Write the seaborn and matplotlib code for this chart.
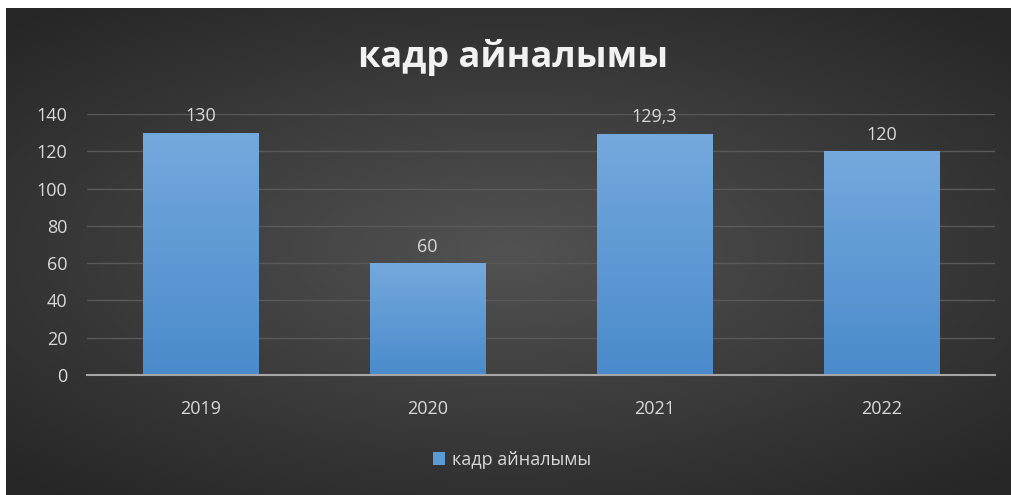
import numpy as np
import pandas as pd
import matplotlib
matplotlib.use("Agg")
import matplotlib.pyplot as plt
import seaborn as sns
from matplotlib.colors import LinearSegmentedColormap

# ---- data ----
categories = ["2019", "2020", "2021", "2022"]
values = [130, 60, 129.3, 120]
value_labels = ["130", "60", "129,3", "120"]
yticks = [0, 20, 40, 60, 80, 100, 120, 140]
title = "кадр айналымы"
series_name = "кадр айналымы"

df = pd.DataFrame({"cat": categories, "val": values})

sns.set_theme(style="dark")
plt.rcParams["font.family"] = ["Open Sans", "DejaVu Sans"]

W, H = 1011, 495
fig = plt.figure(figsize=(W / 100, H / 100), dpi=100)
fig.patch.set_facecolor("white")

# background chart area with radial gradient
bx0, by0 = 6 / W, 0
bw, bh = (W - 6) / W, (H - 8) / H
bg = fig.add_axes([bx0, by0, bw, bh], zorder=0)
yy, xx = np.mgrid[-1:1:300j, -1:1:600j]
r = np.sqrt((xx * 0.9) ** 2 + (yy * 1.0) ** 2)
r = np.clip(r / 1.3, 0, 1)
bg_cmap = LinearSegmentedColormap.from_list("bg", ["#525252", "#3c3c3c", "#262626"])
bg.imshow(r, cmap=bg_cmap, aspect="auto", extent=[0, 1, 0, 1], vmin=0, vmax=1)
bg.set_axis_off()

# plot axes
ax_l, ax_r = 87 / W, 995 / W
ax_b, ax_t = 1 - 375 / H, 1 - 114 / H
ax = fig.add_axes([ax_l, ax_b, ax_r - ax_l, ax_t - ax_b], zorder=1)
ax.patch.set_alpha(0)

sns.barplot(data=df, x="cat", y="val", ax=ax, color="#5b9bd5", width=0.507,
            saturation=1, zorder=3, edgecolor="none", linewidth=0)

ax.set_ylim(0, 140)
ax.set_yticks(yticks)
ax.set_yticklabels([str(t) for t in yticks])
ax.set_xlim(-0.5, 3.5)
ax.grid(axis="y", color="#595959", linewidth=1, zorder=0)
ax.grid(axis="x", visible=False)
for s in ["top", "right", "left"]:
    ax.spines[s].set_visible(False)
ax.spines["bottom"].set_color("#a6a6a6")
ax.spines["bottom"].set_linewidth(1.5)
ax.spines["bottom"].set_zorder(5)
ax.tick_params(axis="both", length=0, colors="#d9d9d9", labelsize=13)
ax.tick_params(axis="y", pad=14)
ax.tick_params(axis="x", pad=18)
ax.set_xlabel("")
ax.set_ylabel("")

# gradient fill for bars
bar_cmap = LinearSegmentedColormap.from_list("bar", ["#4a8bcb", "#74a9dd"])
grad = np.linspace(0, 1, 256).reshape(-1, 1)
for p in ax.patches:
    x0, y0 = p.get_x(), p.get_y()
    w, h = p.get_width(), p.get_height()
    im = ax.imshow(grad, cmap=bar_cmap, aspect="auto", origin="lower",
                   extent=[x0, x0 + w, y0, y0 + h], zorder=3.5)
    im.set_clip_path(p)
ax.set_xlim(-0.5, 3.5)
ax.set_ylim(0, 140)

# data labels
for i, (v, lab) in enumerate(zip(values, value_labels)):
    ax.text(i, v + 4, lab, ha="center", va="bottom", color="#d9d9d9", fontsize=13, zorder=6)

# title
fig.text(513 / W, 1 - 57 / H, title, ha="center", va="center", color="#f2f2f2",
         fontsize=26, fontweight="bold")

# legend
from matplotlib.patches import Patch
handle = Patch(facecolor="#5b9bd5", edgecolor="none")
leg = fig.legend([handle], [series_name], loc="center", bbox_to_anchor=(512 / W, 1 - 460 / H),
                 frameon=False, fontsize=13, handlelength=0.7, handleheight=0.7,
                 handletextpad=0.4)
for t in leg.get_texts():
    t.set_color("#d9d9d9")

fig.savefig("out.png", dpi=100, facecolor=fig.get_facecolor())
